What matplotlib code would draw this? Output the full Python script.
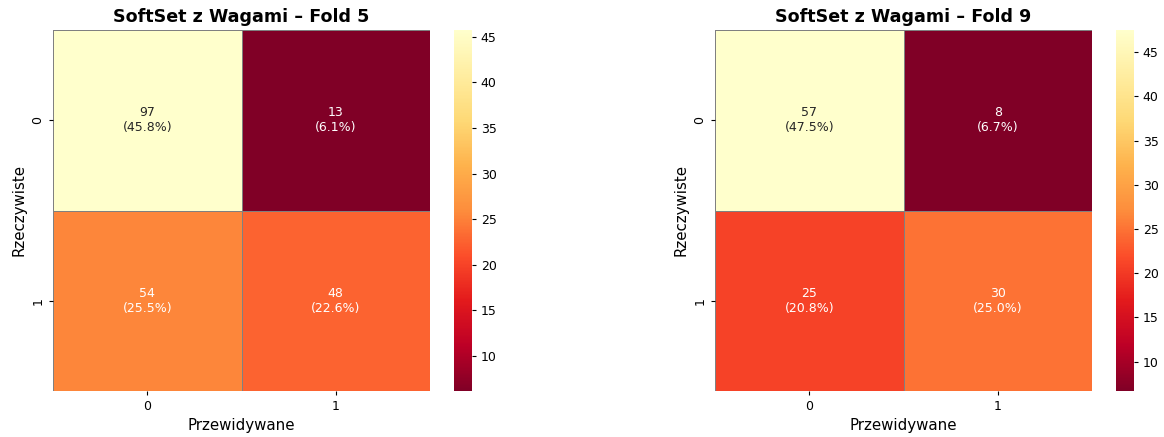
import numpy as np
import matplotlib
matplotlib.use("Agg")
import matplotlib.pyplot as plt
import seaborn as sns

titles = ["SoftSet z Wagami – Fold 5", "SoftSet z Wagami – Fold 9"]
cm_fold5 = [[97, 13], [54, 48]]
cm_fold9 = [[57, 8], [25, 30]]
class_labels = ["0", "1"]

W, H = 1164, 437
fig = plt.figure(figsize=(W / 100, H / 100), dpi=100)

def box(x0, y0, x1, y1):
    return [x0 / W, 1 - y1 / H, (x1 - x0) / W, (y1 - y0) / H]

layout = [
    (box(53, 30, 430, 391), box(454, 30, 472, 391)),
    (box(715, 30, 1092, 391), box(1116, 30, 1134, 391)),
]

s = 0.9
for cm, title, (axpos, cpos) in zip([cm_fold5, cm_fold9], titles, layout):
    cm = np.array(cm)
    pct = cm / cm.sum() * 100
    annot = np.array([[f"{cm[i, j]}\n({pct[i, j]:.1f}%)" for j in range(2)] for i in range(2)])
    ax = fig.add_axes(axpos)
    cax = fig.add_axes(cpos)
    sns.heatmap(pct, annot=annot, fmt="", cmap="YlOrRd_r", ax=ax, cbar_ax=cax,
                linewidths=0.5 * s, linecolor="gray",
                xticklabels=class_labels, yticklabels=class_labels,
                annot_kws={"fontsize": 10 * s})
    ax.set_title(title, fontsize=14 * s, fontweight="bold", pad=6 * s)
    ax.set_xlabel("Przewidywane", fontsize=12 * s, labelpad=4 * s)
    ax.set_ylabel("Rzeczywiste", fontsize=12 * s, labelpad=4 * s)
    ax.tick_params(labelsize=10 * s, length=3.5 * s, pad=3.5 * s)
    cax.tick_params(labelsize=10 * s, length=3.5 * s, pad=3.5 * s)

fig.savefig("out.png", dpi=100)
